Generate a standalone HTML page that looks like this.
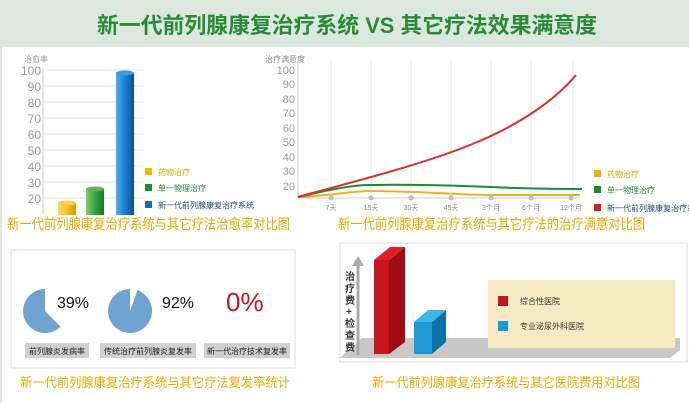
<!DOCTYPE html>
<html><head><meta charset="utf-8"><style>
html,body{margin:0;padding:0;background:#fff;}
svg{display:block;font-family:"Liberation Sans","Noto Sans CJK SC",sans-serif;}
</style></head><body>
<svg width="689" height="403" viewBox="0 0 689 403" xmlns="http://www.w3.org/2000/svg">
<defs>
<linearGradient id="gb" x1="0" x2="1"><stop offset="0" stop-color="#4fb0ea"/><stop offset="0.5" stop-color="#1b7fd0"/><stop offset="1" stop-color="#0d4f98"/></linearGradient>
<linearGradient id="gg" x1="0" x2="1"><stop offset="0" stop-color="#7fd070"/><stop offset="0.5" stop-color="#3aa040"/><stop offset="1" stop-color="#1f7a2a"/></linearGradient>
<linearGradient id="gy" x1="0" x2="1"><stop offset="0" stop-color="#ffe070"/><stop offset="0.5" stop-color="#f5c020"/><stop offset="1" stop-color="#d89a00"/></linearGradient>
</defs>
<rect x="0" y="0" width="689" height="47" fill="#dce8de"/>
<rect x="0" y="47" width="689" height="356" fill="#fff"/>
<line x1="1" y1="47" x2="1" y2="403" stroke="#dce8de" stroke-width="2"/>
<text x="97" y="33" font-size="22" font-weight="bold" fill="#2a8a38" textLength="500" lengthAdjust="spacingAndGlyphs">新一代前列腺康复治疗系统 VS 其它疗法效果满意度</text>

<!-- left bar chart -->
<text x="24" y="62" font-size="8" fill="#999">治愈率</text>
<g font-size="12" fill="#999" text-anchor="end">
<text x="41" y="75">100</text><text x="41" y="91">90</text><text x="41" y="107">80</text><text x="41" y="123">70</text><text x="41" y="139">60</text><text x="41" y="155">50</text><text x="41" y="171">40</text><text x="41" y="187">30</text><text x="41" y="203">20</text>
</g>
<g stroke="#e4e4e4"><line x1="44" y1="70" x2="143" y2="70"/><line x1="44" y1="86" x2="143" y2="86"/><line x1="44" y1="102" x2="143" y2="102"/><line x1="44" y1="118" x2="143" y2="118"/><line x1="44" y1="134" x2="143" y2="134"/><line x1="44" y1="150" x2="143" y2="150"/><line x1="44" y1="166" x2="143" y2="166"/><line x1="44" y1="182" x2="143" y2="182"/><line x1="44" y1="198" x2="143" y2="198"/></g>
<line x1="43" y1="68" x2="43" y2="214" stroke="#ccc"/>
<rect x="58" y="203" width="18" height="12" fill="url(#gy)"/><ellipse cx="67" cy="203" rx="9" ry="2.5" fill="#f7cf40"/>
<rect x="86" y="189" width="18" height="26" fill="url(#gg)"/><ellipse cx="95" cy="189" rx="9" ry="2.5" fill="#5cb850"/>
<rect x="116" y="73" width="18" height="142" fill="url(#gb)"/><ellipse cx="125" cy="73" rx="9" ry="2.5" fill="#3a9be0"/>
<rect x="145" y="168" width="7" height="7" fill="#f5b800"/><text x="158" y="175" font-size="8" fill="#d9a800">药物治疗</text>
<rect x="145" y="184" width="7" height="7" fill="#1e8a3a"/><text x="158" y="191" font-size="8" fill="#1e8a3a">单一物理治疗</text>
<rect x="145" y="201" width="7" height="7" fill="#1a68b8"/><text x="158" y="208" font-size="8" fill="#1a4a7a">新一代前列腺康复治疗系统</text>
<text x="7" y="229" font-size="14" fill="#f0a800" textLength="283" lengthAdjust="spacingAndGlyphs">新一代前列腺康复治疗系统与其它疗法治愈率对比图</text>

<!-- line chart -->
<text x="265" y="62" font-size="8" fill="#888">治疗满意度</text>
<g font-size="11" fill="#999" text-anchor="end">
<text x="295" y="74">100</text><text x="295" y="88">90</text><text x="295" y="103">80</text><text x="295" y="117">70</text><text x="295" y="132">60</text><text x="295" y="146">50</text><text x="295" y="161">40</text><text x="295" y="175">30</text><text x="295" y="190">20</text>
</g>
<g stroke="#e8e8e8"><line x1="331" y1="62" x2="331" y2="197"/><line x1="371" y1="62" x2="371" y2="197"/><line x1="411" y1="62" x2="411" y2="197"/><line x1="451" y1="62" x2="451" y2="197"/><line x1="491" y1="62" x2="491" y2="197"/><line x1="531" y1="62" x2="531" y2="197"/><line x1="573" y1="62" x2="573" y2="197"/></g>
<line x1="298" y1="62" x2="298" y2="198" stroke="#ccc"/>
<line x1="298" y1="198" x2="580" y2="198" stroke="#ccc"/>
<g fill="#bbb"><circle cx="331" cy="198" r="2.5"/><circle cx="371" cy="198" r="2.5"/><circle cx="411" cy="198" r="2.5"/><circle cx="451" cy="198" r="2.5"/><circle cx="491" cy="198" r="2.5"/><circle cx="531" cy="198" r="2.5"/><circle cx="571" cy="198" r="2.5"/></g>
<g font-size="7" fill="#888" text-anchor="middle"><text x="331" y="210">7天</text><text x="371" y="210">15天</text><text x="411" y="210">30天</text><text x="451" y="210">45天</text><text x="491" y="210">3个月</text><text x="531" y="210">6个月</text><text x="571" y="210">12个月</text></g>
<path d="M298 197 C330 196 350 191 371 191 C420 191 460 195 491 195 L580 195" fill="none" stroke="#f0b020" stroke-width="2"/>
<path d="M298 197 C330 190 350 185 371 185 C420 184 460 186 491 187 C530 189 560 189 582 189" fill="none" stroke="#1e8a3a" stroke-width="2"/>
<path d="M298 197 C360 180 420 165 470 145 C520 125 555 100 576 75" fill="none" stroke="#d8302a" stroke-width="2"/>
<rect x="594" y="170" width="7" height="7" fill="#f5b000"/><text x="607" y="177" font-size="8" fill="#d9a800">药物治疗</text>
<rect x="594" y="186" width="7" height="7" fill="#1e8a3a"/><text x="607" y="193" font-size="8" fill="#1e8a3a">单一物理治疗</text>
<rect x="594" y="204" width="7" height="7" fill="#d82020"/><text x="607" y="211" font-size="8" fill="#1a4a7a">新一代前列腺康复治疗系</text>
<text x="338" y="229" font-size="14" fill="#f0a800" textLength="307" lengthAdjust="spacingAndGlyphs">新一代前列腺康复治疗系统与其它疗法的治疗满意对比图</text>

<!-- bottom-left -->
<rect x="11" y="250" width="284" height="118" fill="#fff" stroke="#ddd"/>
<path d="M45 311 L60.6 326.6 A22 22 0 1 1 45 289 Z" fill="#6fa3d0"/>
<path d="M130 311 L137.5 290.3 A22 22 0 1 1 130 289 Z" fill="#6fa3d0"/>
<text x="57" y="308" font-size="16" fill="#111">39%</text>
<text x="162" y="308" font-size="16" fill="#111">92%</text>
<text x="226" y="311" font-size="26" fill="#c01820">0%</text>
<rect x="25" y="343" width="64" height="15" fill="#d0d0d0"/><text x="57" y="354" font-size="8" text-anchor="middle" fill="#222">前列腺炎发病率</text>
<rect x="100" y="343" width="96" height="15" fill="#d0d0d0"/><text x="148" y="354" font-size="8" text-anchor="middle" fill="#222">传统治疗前列腺炎复发率</text>
<rect x="204" y="343" width="86" height="15" fill="#d0d0d0"/><text x="247" y="354" font-size="8" text-anchor="middle" fill="#222">新一代治疗技术复发率</text>
<text x="20" y="387" font-size="13" fill="#f0a800" textLength="270" lengthAdjust="spacingAndGlyphs">新一代前列腺康复治疗系统与其它疗法复发率统计</text>

<!-- bottom-right -->
<rect x="340" y="243" width="347" height="119" fill="#fff" stroke="#ddd"/>
<polygon points="340,358 362,338 680,338 680,350 670,358" fill="#c8c8c8"/>
<line x1="358" y1="355" x2="358" y2="262" stroke="#aaa" stroke-width="3"/>
<polygon points="352,266 358,256 364,266" fill="#aaa"/>
<text x="345" y="280" font-size="10" fill="#333" font-weight="bold">治</text>
<text x="345" y="292" font-size="10" fill="#333" font-weight="bold">疗</text>
<text x="345" y="304" font-size="10" fill="#333" font-weight="bold">费</text>
<text x="346" y="315" font-size="10" fill="#333" font-weight="bold">+</text>
<text x="345" y="327" font-size="10" fill="#333" font-weight="bold">检</text>
<text x="345" y="339" font-size="10" fill="#333" font-weight="bold">查</text>
<text x="345" y="351" font-size="10" fill="#333" font-weight="bold">费</text>
<rect x="374" y="260" width="15" height="94" fill="#c8141c"/>
<polygon points="389,260 405,247 405,342 389,354" fill="#a00c14"/>
<polygon points="374,260 389,260 405,247 390,247" fill="#e02028"/>
<rect x="414" y="322" width="18" height="32" fill="#1e9ad0"/>
<polygon points="432,322 446,310 446,342 432,354" fill="#0a74a8"/>
<polygon points="414,322 432,322 446,310 428,310" fill="#40b4e4"/>
<rect x="488" y="280" width="187" height="68" fill="#f5ebc3"/>
<rect x="498" y="296" width="10" height="10" fill="#c8141c"/><text x="520" y="304" font-size="8" fill="#333">综合性医院</text>
<rect x="498" y="321" width="10" height="10" fill="#1e9ad0"/><text x="520" y="329" font-size="8" fill="#333">专业泌尿外科医院</text>
<text x="372" y="387" font-size="13" fill="#f0a800" textLength="268" lengthAdjust="spacingAndGlyphs">新一代前列腺康复治疗系统与其它医院费用对比图</text>
</svg>
</body></html>
